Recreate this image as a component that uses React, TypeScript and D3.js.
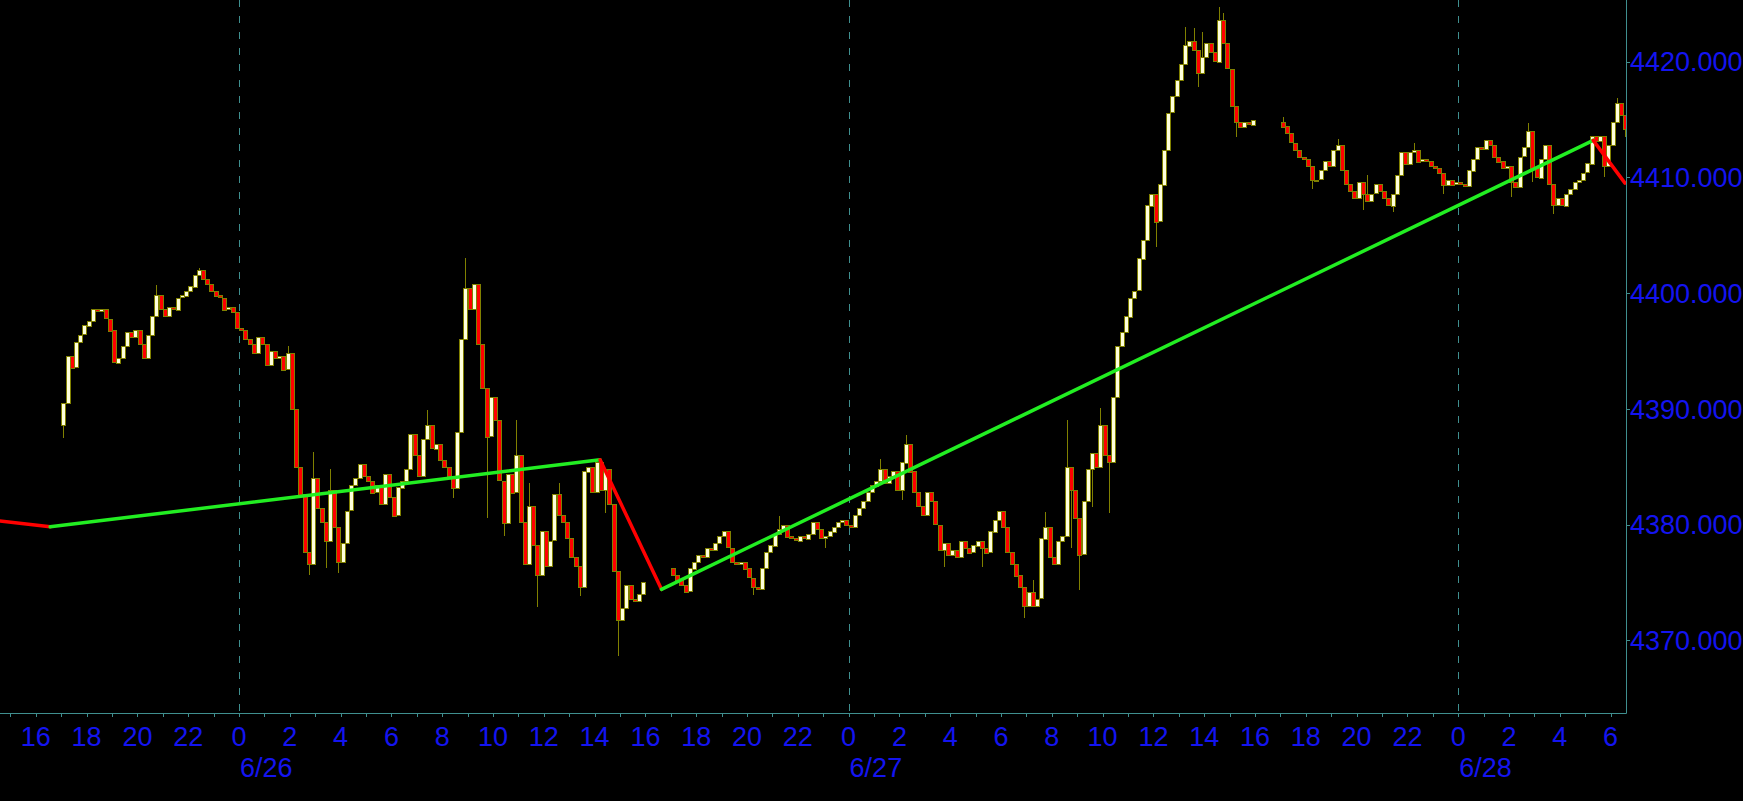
import React, { useEffect, useRef } from 'react';
import * as d3 from 'd3';

const WIDTH = 1743;
const HEIGHT = 801;
const BAR_MS = 10 * 60 * 1000;

// 10-minute bars, one array of closes per trading session
const sessionStarts = ['2023-06-25T17:00:00Z', '2023-06-26T17:00:00Z', '2023-06-27T17:00:00Z'];
const sessionOpens = [4388.6, 4376.2, 4414.8];

const closesA = [
  4390.5, 4394.6, 4393.6, 4395.8, 4396.4, 4397.2, 4397.6, 4398.6, 4398.4, 4398.6,
  4397.8, 4396.8, 4394.0, 4394.4, 4395.4, 4396.6, 4396.2, 4396.8, 4395.6, 4394.4,
  4396.4, 4398.0, 4399.8, 4398.6, 4398.0, 4398.8, 4398.6, 4399.6, 4399.8, 4400.2,
  4400.6, 4401.6, 4402.0, 4401.2, 4400.8, 4400.2, 4399.8, 4399.6, 4398.6, 4398.8,
  4398.4, 4397.0, 4396.8, 4396.0, 4395.6, 4394.8, 4396.2, 4395.6, 4393.8, 4395.0,
  4394.4, 4394.6, 4393.4, 4394.8, 4390.0, 4385.0, 4382.6, 4377.6, 4376.6, 4384.0,
  4381.4, 4380.2, 4378.6, 4383.0, 4379.8, 4376.8, 4378.4, 4381.2, 4383.4, 4384.0,
  4385.2, 4384.2, 4383.8, 4382.8, 4383.4, 4381.8, 4384.4, 4382.4, 4380.8, 4383.2,
  4383.8, 4384.8, 4387.8, 4386.0, 4384.2, 4387.4, 4388.6, 4386.6, 4387.0, 4385.6,
  4385.0, 4384.2, 4383.2, 4388.0, 4396.0, 4400.4, 4398.6, 4400.8, 4395.6, 4391.8,
  4387.6, 4391.0, 4389.0, 4383.8, 4380.2, 4384.4, 4382.8, 4386.0, 4380.2, 4376.6,
  4381.6, 4378.2, 4375.6, 4379.4, 4376.4, 4378.6, 4382.6, 4380.8, 4380.2, 4378.8,
  4377.2, 4376.4, 4374.6, 4384.6, 4385.0, 4382.8, 4385.4, 4383.0, 4384.8, 4381.8,
  4376.0, 4371.8, 4372.8, 4374.8, 4373.6, 4373.4, 4374.0, 4375.0,
];

const closesB = [
  4375.6, 4375.2, 4374.8, 4374.2, 4376.2, 4376.8, 4377.4, 4377.2, 4378.0, 4377.8,
  4378.4, 4379.0, 4379.4, 4378.0, 4376.8, 4376.6, 4376.8, 4376.2, 4375.4, 4374.6,
  4374.4, 4376.2, 4377.6, 4378.2, 4379.2, 4379.6, 4380.0, 4379.0, 4378.8, 4378.6,
  4379.0, 4378.8, 4379.2, 4380.2, 4379.6, 4378.8, 4379.0, 4379.4, 4379.8, 4380.2,
  4380.4, 4380.0, 4379.8, 4380.8, 4381.4, 4382.0, 4382.8, 4383.4, 4383.8, 4384.8,
  4383.6, 4384.2, 4384.6, 4383.0, 4385.4, 4387.0, 4384.6, 4382.8, 4381.6, 4380.8,
  4382.8, 4382.0, 4380.0, 4377.8, 4378.4, 4377.4, 4377.8, 4377.2, 4378.6, 4378.0,
  4377.6, 4378.2, 4378.6, 4378.0, 4377.6, 4379.4, 4380.4, 4381.2, 4379.8, 4377.6,
  4376.6, 4375.6, 4374.6, 4373.0, 4374.2, 4373.0, 4373.6, 4378.8, 4379.8, 4377.2,
  4376.6, 4378.6, 4379.0, 4385.0, 4383.0, 4380.6, 4377.4, 4382.0, 4384.8, 4386.2,
  4385.0, 4388.6, 4386.0, 4385.4, 4391.0, 4395.4, 4396.6, 4398.0, 4399.6, 4400.2,
  4403.0, 4404.6, 4407.6, 4408.6, 4406.2, 4409.4, 4412.4, 4415.6, 4417.0, 4418.4,
  4419.8, 4421.4, 4421.8, 4421.0, 4419.0, 4420.4, 4421.6, 4420.8, 4420.0, 4423.6,
  4421.6, 4419.4, 4416.2, 4414.8, 4414.4, 4414.8, 4414.6, 4415.0,
];

const closesC = [
  4414.4, 4413.8, 4413.0, 4412.4, 4411.8, 4411.6, 4411.0, 4409.8, 4409.8, 4410.6,
  4411.4, 4411.0, 4412.4, 4412.8, 4410.6, 4409.4, 4408.8, 4408.2, 4409.6, 4408.6,
  4408.0, 4408.6, 4409.4, 4408.8, 4408.2, 4407.6, 4408.6, 4410.2, 4412.2, 4411.2,
  4412.2, 4412.4, 4411.4, 4411.6, 4411.4, 4411.0, 4410.8, 4410.4, 4409.4, 4409.8,
  4409.4, 4409.6, 4409.4, 4409.2, 4410.6, 4411.6, 4412.6, 4412.4, 4413.2, 4412.8,
  4411.8, 4411.4, 4410.8, 4411.0, 4409.6, 4409.2, 4411.8, 4412.6, 4414.0, 4410.8,
  4410.0, 4411.6, 4412.8, 4409.4, 4407.6, 4408.2, 4407.6, 4408.6, 4409.0, 4409.6,
  4409.8, 4410.4, 4411.2, 4413.6, 4413.2, 4413.6, 4411.0, 4412.8, 4414.8, 4416.4,
  4415.4, 4414.2,
];

// wick extremes that reach past the body (bar index, high, low)
interface Wick { i: number; hi?: number; lo?: number }
const wicksA: Wick[] = [
  { i: 0, lo: 4387.5 }, { i: 22, hi: 4400.7 }, { i: 32, hi: 4402.2 }, { i: 53, hi: 4395.4 },
  { i: 58, lo: 4375.6 }, { i: 59, hi: 4386.3 }, { i: 62, lo: 4376.2 }, { i: 63, hi: 4384.8 },
  { i: 65, lo: 4375.8 }, { i: 86, hi: 4389.9 }, { i: 92, lo: 4382.3 }, { i: 95, hi: 4403.0 },
  { i: 100, lo: 4380.6 }, { i: 104, lo: 4379.0 }, { i: 107, hi: 4389.0 }, { i: 110, hi: 4383.6 },
  { i: 112, lo: 4372.9 }, { i: 117, hi: 4383.6 }, { i: 122, lo: 4373.8 }, { i: 128, lo: 4381.0 },
  { i: 131, lo: 4368.6 },
];
const wicksB: Wick[] = [
  { i: 19, lo: 4373.9 }, { i: 25, hi: 4380.7 }, { i: 36, lo: 4378.0 }, { i: 49, hi: 4385.7 },
  { i: 54, lo: 4382.1 }, { i: 55, hi: 4387.7 }, { i: 64, lo: 4376.3 }, { i: 73, lo: 4376.3 },
  { i: 83, lo: 4371.9 }, { i: 85, hi: 4375.2 }, { i: 88, hi: 4381.1 }, { i: 93, hi: 4389.0 },
  { i: 94, lo: 4378.0 }, { i: 96, lo: 4374.3 }, { i: 99, lo: 4381.5 }, { i: 101, hi: 4390.1 },
  { i: 103, lo: 4381.0 }, { i: 114, lo: 4404.0 }, { i: 121, hi: 4423.0 }, { i: 123, hi: 4422.9 },
  { i: 124, lo: 4417.8 }, { i: 125, hi: 4422.6 }, { i: 129, hi: 4424.7 }, { i: 130, hi: 4424.2 },
  { i: 133, lo: 4413.5 },
];
const wicksC: Wick[] = [
  { i: 0, hi: 4415.2 }, { i: 7, lo: 4409.0 }, { i: 13, hi: 4413.3 }, { i: 19, lo: 4407.2 },
  { i: 20, hi: 4410.2 }, { i: 26, lo: 4407.0 }, { i: 31, hi: 4413.0 }, { i: 38, lo: 4408.6 },
  { i: 54, lo: 4408.3 }, { i: 58, hi: 4414.7 }, { i: 59, lo: 4409.6 }, { i: 64, lo: 4406.8 },
  { i: 76, lo: 4410.0 }, { i: 79, hi: 4416.9 }, { i: 81, lo: 4413.5 },
];

// zigzag indicator vertices
const zigzagTimes = [
  '2023-06-25T14:35:00Z', '2023-06-25T16:34:00Z', '2023-06-26T14:13:00Z',
  '2023-06-26T16:38:00Z', '2023-06-28T05:19:00Z', '2023-06-28T06:34:00Z',
];
const zigzagValues = [4380.3, 4379.8, 4385.6, 4374.4, 4413.2, 4409.5];

const yTicks = [4370, 4380, 4390, 4400, 4410, 4420];
const xDomain = ['2023-06-25T14:35:26Z', '2023-06-28T06:36:22Z'];
const yDomain = [4363.71, 4425.33];

const AXIS = '#3f8f8f';
const TEXT = '#1414f0';
const OLIVE = '#808000';
const UP = '#ffffdc';
const DOWN = '#ff0000';
const FONT = "'Liberation Sans', Arial, sans-serif";

interface Bar { t: number; open: number; close: number; hi: number; lo: number }

const App: React.FC = () => {
  const svgRef = useRef<SVGSVGElement | null>(null);

  useEffect(() => {
    document.body.style.margin = '0';
    document.body.style.background = '#000';
    if (!svgRef.current) return;

    const svg = d3.select(svgRef.current);
    svg.selectAll('*').remove();

    const plotRight = 1626;
    const plotBottom = 713;

    const x = d3.scaleUtc()
      .domain(xDomain.map(d => new Date(d)))
      .range([0, plotRight]);
    const y = d3.scaleLinear().domain(yDomain).range([plotBottom, 0]);

    // build bars, open = previous close
    const bars: Bar[] = [];
    [closesA, closesB, closesC].forEach((closes, s) => {
      const start = new Date(sessionStarts[s]).getTime();
      const wicks = [wicksA, wicksB, wicksC][s];
      let open = sessionOpens[s];
      closes.forEach((close, i) => {
        const w = wicks.find(d => d.i === i);
        bars.push({
          t: start + i * BAR_MS,
          open,
          close,
          hi: Math.max(open, close, w?.hi ?? -Infinity),
          lo: Math.min(open, close, w?.lo ?? Infinity),
        });
        open = close;
      });
    });

    svg.append('rect').attr('width', WIDTH).attr('height', HEIGHT).attr('fill', '#000');

    svg.append('defs').append('clipPath').attr('id', 'plot-clip')
      .append('rect').attr('x', 0).attr('y', 0).attr('width', plotRight).attr('height', plotBottom);

    // day separators
    const days = d3.utcDay.range(x.domain()[0], x.domain()[1]).filter(d => x(d) > 0);
    svg.append('g').selectAll('line')
      .data(days)
      .enter()
      .append('line')
      .attr('x1', d => Math.round(x(d)) + 0.5)
      .attr('x2', d => Math.round(x(d)) + 0.5)
      .attr('y1', 0)
      .attr('y2', plotBottom)
      .attr('stroke', AXIS)
      .attr('stroke-width', 1)
      .attr('stroke-dasharray', '7 9');

    const chart = svg.append('g').attr('clip-path', 'url(#plot-clip)');

    // candles
    const candles = chart.append('g').attr('shape-rendering', 'crispEdges');
    const cx = (d: Bar) => Math.round(x(new Date(d.t + BAR_MS / 2))) + 0.5;
    candles.selectAll('.wick')
      .data(bars)
      .enter()
      .append('line')
      .attr('class', 'wick')
      .attr('x1', cx)
      .attr('x2', cx)
      .attr('y1', d => y(d.hi))
      .attr('y2', d => y(d.lo))
      .attr('stroke', OLIVE)
      .attr('stroke-width', 1);

    candles.selectAll('.body')
      .data(bars)
      .enter()
      .append('rect')
      .attr('class', 'body')
      .attr('x', d => cx(d) - 2)
      .attr('width', 4)
      .attr('y', d => Math.round(y(Math.max(d.open, d.close))) + 0.5)
      .attr('height', d => Math.max(1, Math.round(Math.abs(y(d.open) - y(d.close)))))
      .attr('fill', d => (d.close >= d.open ? UP : DOWN))
      .attr('stroke', OLIVE)
      .attr('stroke-width', 1);

    // zigzag
    const zz = zigzagTimes.map((t, i) => ({ t: new Date(t), v: zigzagValues[i] }));
    chart.append('g').selectAll('line')
      .data(zz.slice(1))
      .enter()
      .append('line')
      .attr('x1', (_, i) => x(zz[i].t))
      .attr('y1', (_, i) => y(zz[i].v))
      .attr('x2', d => x(d.t))
      .attr('y2', d => y(d.v))
      .attr('stroke', (d, i) => (d.v > zz[i].v ? '#22ee22' : '#ff0000'))
      .attr('stroke-width', 3.5)
      .attr('stroke-linecap', 'round');

    // axis lines
    svg.append('line')
      .attr('x1', 0).attr('x2', plotRight + 0.5)
      .attr('y1', plotBottom + 0.5).attr('y2', plotBottom + 0.5)
      .attr('stroke', AXIS);
    svg.append('line')
      .attr('x1', plotRight + 0.5).attr('x2', plotRight + 0.5)
      .attr('y1', 0).attr('y2', plotBottom + 0.5)
      .attr('stroke', AXIS);

    // hour ticks and labels
    const hours = d3.utcHour.range(x.domain()[0], x.domain()[1]);
    svg.append('g').selectAll('line')
      .data(hours)
      .enter()
      .append('line')
      .attr('x1', d => Math.round(x(d)) + 0.5)
      .attr('x2', d => Math.round(x(d)) + 0.5)
      .attr('y1', plotBottom)
      .attr('y2', plotBottom + 4)
      .attr('stroke', AXIS);

    svg.append('g').selectAll('text')
      .data(hours.filter(d => d.getUTCHours() % 2 === 0))
      .enter()
      .append('text')
      .attr('x', d => x(d))
      .attr('y', 746)
      .attr('text-anchor', 'middle')
      .attr('font-family', FONT)
      .attr('font-size', 27)
      .attr('fill', TEXT)
      .text(d => String(d.getUTCHours()));

    svg.append('g').selectAll('text')
      .data(days)
      .enter()
      .append('text')
      .attr('x', d => x(d) + 1)
      .attr('y', 777)
      .attr('font-family', FONT)
      .attr('font-size', 27)
      .attr('fill', TEXT)
      .text(d => d3.utcFormat('%-m/%-d')(d));

    // price axis
    const yAxis = svg.append('g');
    yAxis.selectAll('line')
      .data(yTicks)
      .enter()
      .append('line')
      .attr('x1', plotRight)
      .attr('x2', plotRight + 4)
      .attr('y1', d => Math.round(y(d)) + 0.5)
      .attr('y2', d => Math.round(y(d)) + 0.5)
      .attr('stroke', AXIS);
    yAxis.selectAll('text')
      .data(yTicks)
      .enter()
      .append('text')
      .attr('x', plotRight + 4)
      .attr('y', d => y(d) + 9.7)
      .attr('font-family', FONT)
      .attr('font-size', 27)
      .attr('fill', TEXT)
      .text(d => d3.format('.3f')(d));
  }, []);

  return <svg ref={svgRef} width={WIDTH} height={HEIGHT} style={{ display: 'block' }} />;
};

export default App;
